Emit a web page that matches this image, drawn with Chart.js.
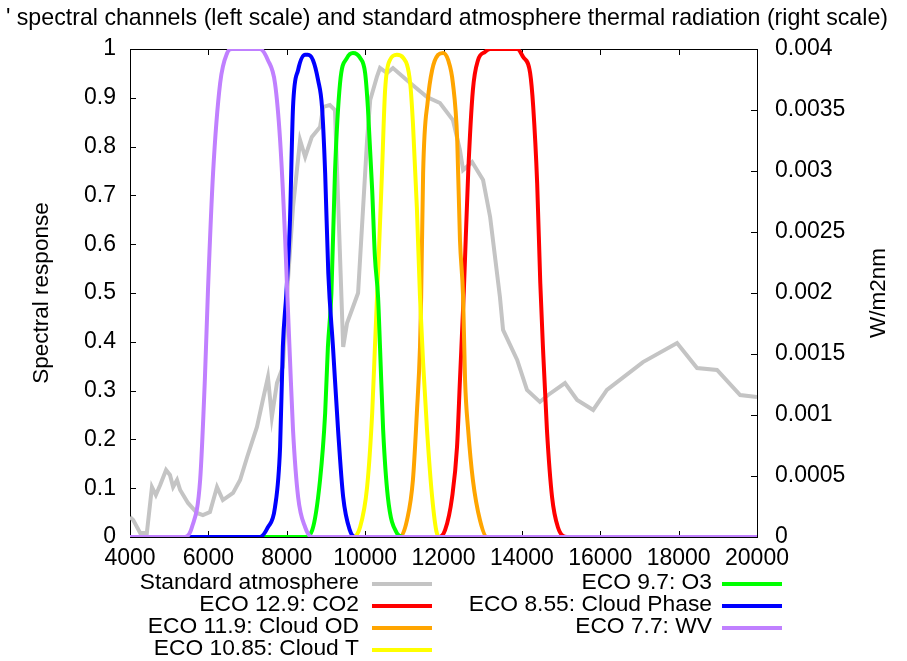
<!DOCTYPE html>
<html>
<head>
<meta charset="utf-8">
<script src="https://cdn.jsdelivr.net/npm/chart.js@4"></script>
<style>
  html, body { margin: 0; padding: 0; background: #fff; }
  #wrap { width: 907px; height: 661px; }
</style>
</head>
<body>
<div id="wrap"><canvas id="chart" width="907" height="661"></canvas></div>
<script>
// Standard atmosphere thermal radiation (right scale, W/m2nm)
const atmWave = [4000, 4080, 4260, 4430, 4560, 4660, 4770, 4920, 5020, 5100, 5200, 5280, 5480, 5710, 5860, 6040, 6220, 6370, 6630, 6810, 6990, 7240, 7390, 7520, 7620, 7750, 7900, 8030, 8160, 8340, 8470, 8640, 8850, 8930, 9100, 9230, 9440, 9540, 9690, 9820, 10050, 10130, 10300, 10380, 10560, 10710, 11150, 11580, 11910, 12240, 12420, 12500, 12730, 13010, 13190, 13440, 13520, 13880, 14130, 14460, 14670, 15100, 15410, 15820, 16170, 17090, 17960, 18470, 18980, 19570, 20000];
const atmRad = [0.000164, 0.00014, 0.000033, 0.000033, 0.00041, 0.000344, 0.000426, 0.000549, 0.000508, 0.00041, 0.000467, 0.000385, 0.000279, 0.000197, 0.00018, 0.000205, 0.00041, 0.000303, 0.000361, 0.000467, 0.000656, 0.000902, 0.001123, 0.001311, 0.000984, 0.001262, 0.001393, 0.0021, 0.002705, 0.003254, 0.003115, 0.003279, 0.003361, 0.003525, 0.003541, 0.0035, 0.001557, 0.001754, 0.001885, 0.002, 0.003254, 0.003582, 0.003771, 0.003844, 0.003803, 0.003844, 0.003721, 0.003607, 0.003557, 0.003418, 0.003172, 0.003008, 0.003074, 0.002926, 0.002623, 0.001967, 0.001697, 0.001451, 0.001205, 0.001107, 0.001164, 0.001262, 0.001123, 0.001041, 0.001205, 0.001434, 0.00159, 0.001385, 0.001369, 0.001164, 0.001148];

// spectral response of each channel (left scale)
const co2Wave = [4000, 11860, 12040, 12220, 12345, 12420, 12520, 12630, 12750, 12880, 13060, 13190, 13880, 14030, 14210, 14290, 14390, 14470, 14540, 14640, 14770, 14920, 15150, 20000];
const co2Resp = [0, 0, 0.014, 0.082, 0.184, 0.322, 0.506, 0.746, 0.916, 0.977, 0.994, 1.0, 1.0, 0.984, 0.951, 0.881, 0.725, 0.52, 0.385, 0.219, 0.082, 0.02, 0, 0];

const odWave = [4000, 10890, 11070, 11220, 11320, 11400, 11430, 11480, 11600, 11710, 11860, 11990, 12120, 12240, 12350, 12420, 12500, 12550, 12630, 12750, 12930, 13110, 20000];
const odResp = [0, 0, 0.035, 0.117, 0.254, 0.389, 0.492, 0.746, 0.895, 0.957, 0.988, 0.992, 0.977, 0.93, 0.814, 0.609, 0.492, 0.322, 0.219, 0.117, 0.035, 0, 0];

const ctWave = [4000, 9690, 9870, 10050, 10180, 10250, 10330, 10430, 10510, 10630, 10810, 10970, 11150, 11220, 11320, 11400, 11480, 11580, 11710, 11830, 11910, 20000];
const ctResp = [0, 0, 0.02, 0.102, 0.254, 0.389, 0.541, 0.746, 0.916, 0.977, 0.988, 0.982, 0.93, 0.848, 0.676, 0.492, 0.357, 0.219, 0.082, 0.008, 0, 0];

const o3Wave = [4000, 8470, 8650, 8850, 8980, 9050, 9140, 9230, 9360, 9540, 9690, 9870, 10000, 10070, 10180, 10250, 10330, 10380, 10460, 10580, 10810, 10970, 20000];
const o3Resp = [0, 0, 0.014, 0.117, 0.254, 0.389, 0.5, 0.746, 0.93, 0.982, 0.992, 0.982, 0.951, 0.881, 0.711, 0.574, 0.492, 0.389, 0.219, 0.082, 0.008, 0, 0];

const phaseWave = [4000, 7320, 7520, 7700, 7830, 7900, 7990, 8080, 8160, 8290, 8470, 8540, 8670, 8800, 8900, 8980, 9060, 9180, 9310, 9440, 9610, 9740, 20000];
const phaseResp = [0, 0, 0.02, 0.061, 0.184, 0.389, 0.5, 0.643, 0.881, 0.957, 0.988, 0.988, 0.977, 0.936, 0.881, 0.746, 0.541, 0.389, 0.219, 0.082, 0.014, 0, 0];

const wvWave = [4000, 5400, 5580, 5790, 5910, 5990, 6120, 6300, 6480, 6600, 7320, 7520, 7700, 7830, 7960, 8010, 8080, 8160, 8290, 8470, 8650, 20000];
const wvResp = [0, 0, 0.02, 0.117, 0.322, 0.506, 0.746, 0.93, 0.992, 1.0, 1.0, 0.977, 0.93, 0.814, 0.609, 0.506, 0.369, 0.219, 0.082, 0.02, 0, 0];

const seriesLabels = ["Standard atmosphere", "ECO 12.9: CO2", "ECO 11.9: Cloud OD", "ECO 10.85: Cloud T", "ECO 9.7: O3", "ECO 8.55: Cloud Phase", "ECO 7.7: WV"];
const seriesColors = ["#c4c4c4", "#ff0000", "#ffa500", "#ffff00", "#00ff00", "#0000ff", "#c080ff"];

const titleText = "' spectral channels (left scale) and standard atmosphere thermal radiation (right scale)";
const leftAxisTitle = "Spectral response";
const rightAxisTitle = "W/m2nm";

const FONT = "'Liberation Sans', Arial, sans-serif";

function pts(xs, ys) {
  return xs.map((x, i) => ({ x: x, y: ys[i] }));
}

const channelData = [
  pts(co2Wave, co2Resp),
  pts(odWave, odResp),
  pts(ctWave, ctResp),
  pts(o3Wave, o3Resp),
  pts(phaseWave, phaseResp),
  pts(wvWave, wvResp),
];

const datasets = [
  {
    label: seriesLabels[0],
    data: pts(atmWave, atmRad),
    yAxisID: "y2",
    borderColor: seriesColors[0],
    borderWidth: 4,
    pointRadius: 0,
    tension: 0,
    order: 10,
  },
];
channelData.forEach((d, i) => {
  datasets.push({
    label: seriesLabels[i + 1],
    data: d,
    yAxisID: "y",
    borderColor: seriesColors[i + 1],
    borderWidth: 4,
    pointRadius: 0,
    cubicInterpolationMode: "monotone",
    order: 9 - i,
  });
});

// frame + inward tick marks, drawn under the curves like gnuplot
const framePlugin = {
  id: "frame",
  beforeDatasetsDraw(chart) {
    const { ctx, chartArea: a, scales } = chart;
    const tl = 6;
    ctx.save();
    ctx.strokeStyle = "#000";
    ctx.lineWidth = 1;
    ctx.strokeRect(a.left + 0.5, a.top + 0.5, a.right - a.left, a.bottom - a.top);
    ctx.beginPath();
    scales.x.ticks.forEach((t) => {
      const px = Math.round(scales.x.getPixelForValue(t.value)) + 0.5;
      ctx.moveTo(px, a.bottom);
      ctx.lineTo(px, a.bottom - tl);
      ctx.moveTo(px, a.top);
      ctx.lineTo(px, a.top + tl);
    });
    scales.y.ticks.forEach((t) => {
      const py = Math.round(scales.y.getPixelForValue(t.value)) + 0.5;
      ctx.moveTo(a.left, py);
      ctx.lineTo(a.left + tl, py);
    });
    scales.y2.ticks.forEach((t) => {
      const py = Math.round(scales.y2.getPixelForValue(t.value)) + 0.5;
      ctx.moveTo(a.right, py);
      ctx.lineTo(a.right - tl, py);
    });
    ctx.stroke();
    ctx.restore();
  },
};

const decoPlugin = {
  id: "deco",
  afterDraw(chart) {
    const { ctx, chartArea: a } = chart;
    ctx.save();
    ctx.fillStyle = "#000";

    // title (its left end runs off the page in the original)
    ctx.font = "23.2px " + FONT;
    ctx.textBaseline = "alphabetic";
    ctx.textAlign = "right";
    ctx.fillText(titleText, 888, 25);

    // axis titles
    ctx.font = "22.5px " + FONT;
    ctx.textAlign = "center";
    ctx.textBaseline = "middle";
    ctx.save();
    ctx.translate(42, (a.top + a.bottom) / 2);
    ctx.rotate(-Math.PI / 2);
    ctx.fillText(leftAxisTitle, 0, 0);
    ctx.restore();
    ctx.save();
    ctx.translate(879, (a.top + a.bottom) / 2);
    ctx.rotate(-Math.PI / 2);
    ctx.fillText(rightAxisTitle, 0, 0);
    ctx.restore();

    // key, two columns, text right-aligned before the sample line
    ctx.font = "22.8px " + FONT;
    const cols = [
      { textRight: 359, lineX: 372 },
      { textRight: 712, lineX: 722 },
    ];
    const rowY = [583, 605, 627, 649];
    const layout = [[0, 0], [0, 1], [0, 2], [0, 3], [1, 0], [1, 1], [1, 2]];
    ctx.textAlign = "right";
    layout.forEach(([c, r], i) => {
      const col = cols[c];
      const y = rowY[r];
      ctx.fillText(seriesLabels[i], col.textRight, y);
      ctx.strokeStyle = seriesColors[i];
      ctx.lineWidth = 4;
      ctx.beginPath();
      ctx.moveTo(col.lineX, y + 1);
      ctx.lineTo(col.lineX + 60, y + 1);
      ctx.stroke();
    });
    ctx.restore();
  },
};

const tickFont = { family: FONT, size: 23 };

new Chart(document.getElementById("chart"), {
  type: "line",
  data: { datasets: datasets },
  options: {
    responsive: false,
    animation: false,
    layout: { padding: { top: 49, left: 0, right: 0, bottom: 0 } },
    plugins: {
      legend: { display: false },
      title: { display: false },
      tooltip: { enabled: false },
    },
    scales: {
      x: {
        type: "linear",
        min: 4000,
        max: 20000,
        afterFit: (s) => { s.height = 124; },
        grid: { display: false, drawTicks: false },
        border: { display: false },
        ticks: {
          stepSize: 2000,
          padding: 8,
          color: "#000",
          font: tickFont,
          maxRotation: 0,
          callback: (v) => String(v),
        },
      },
      y: {
        position: "left",
        min: 0,
        max: 1,
        afterFit: (s) => { s.width = 130; },
        grid: { display: false, drawTicks: false },
        border: { display: false },
        ticks: {
          stepSize: 0.1,
          padding: 14,
          color: "#000",
          font: tickFont,
          callback: (v) => String(Number(v.toFixed(1))),
        },
      },
      y2: {
        position: "right",
        min: 0,
        max: 0.004,
        afterFit: (s) => { s.width = 150; },
        grid: { display: false, drawTicks: false },
        border: { display: false },
        ticks: {
          stepSize: 0.0005,
          padding: 18,
          color: "#000",
          font: tickFont,
          callback: (v) => String(Number(v.toFixed(4))),
        },
      },
    },
  },
  plugins: [framePlugin, decoPlugin],
});
</script>
</body>
</html>
